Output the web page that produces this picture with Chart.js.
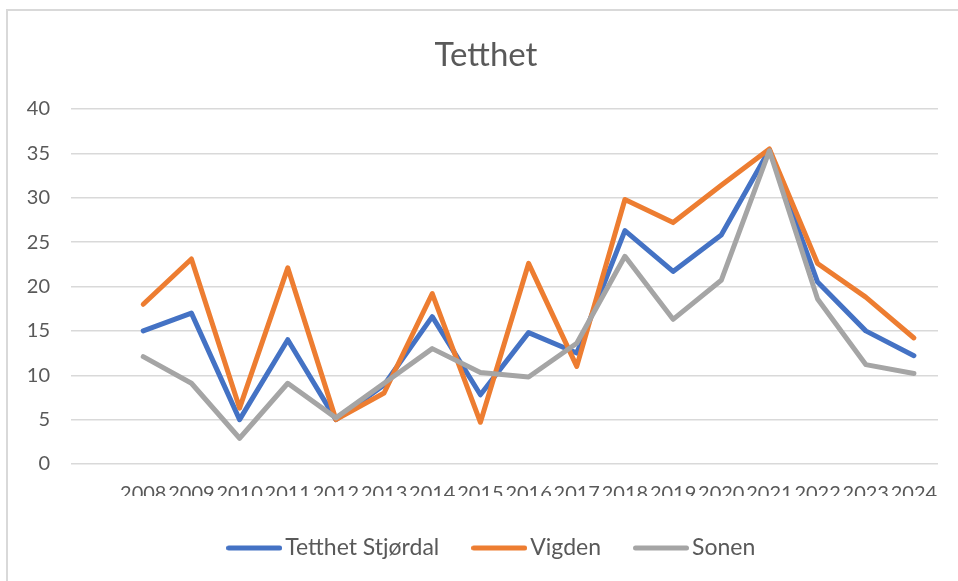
<!DOCTYPE html>
<html>
<head>
<meta charset="utf-8">
<script src="https://cdn.jsdelivr.net/npm/chart.js@4/dist/chart.umd.min.js"></script>
<style>
  html, body { margin: 0; padding: 0; background: #ffffff; overflow: hidden; }
  #frame { position: absolute; left: 6px; top: 9px; width: 1000px; height: 1000px;
           border-left: 2px solid #D9D9D9; border-top: 2px solid #D9D9D9; }
  #wrap { position: absolute; left: 0; top: 0; width: 958px; height: 581px; }
</style>
</head>
<body>
<div id="frame"></div>
<div id="wrap"><canvas id="c" width="958" height="581"></canvas></div>
<script>
const years = ['2008','2009','2010','2011','2012','2013','2014','2015','2016','2017','2018','2019','2020','2021','2022','2023','2024'];
const stjordal = [15.0, 17.0, 5.0, 14.0, 5.0, 8.9, 16.6, 7.8, 14.8, 12.5, 26.3, 21.7, 25.8, 35.4, 20.5, 15.0, 12.2];
const vigden   = [18.0, 23.1, 6.3, 22.1, 5.0, 8.0, 19.2, 4.7, 22.6, 11.0, 29.8, 27.2, 31.4, 35.5, 22.6, 18.8, 14.2];
const sonen    = [12.1, 9.1, 2.9, 9.1, 5.2, 9.1, 13.0, 10.3, 9.8, 13.6, 23.4, 16.3, 20.7, 35.3, 18.6, 11.2, 10.2];
const seriesNames = ['Tetthet Stjørdal', 'Vigden', 'Sonen'];
const seriesColors = ['#4472C4', '#ED7D31', '#A5A5A5'];
const yTicks = [0, 5, 10, 15, 20, 25, 30, 35, 40];

// Excel chart has an empty leading category before 2008
const labels = [''].concat(years);
const pad = arr => [null].concat(arr);

const TXT = '#595959';
const FONT = 'Lato, "Open Sans", sans-serif';

// legend marker: a short rounded line segment
function lineMarker(color) {
  const c = document.createElement('canvas');
  c.width = 56; c.height = 8;
  const g = c.getContext('2d');
  g.strokeStyle = color; g.lineWidth = 5; g.lineCap = 'round';
  g.beginPath(); g.moveTo(2.5, 4); g.lineTo(53.5, 4); g.stroke();
  return c;
}
const markers = seriesColors.map(lineMarker);

function ds(i, data, order) {
  return { label: seriesNames[i], data: pad(data), borderColor: seriesColors[i], backgroundColor: seriesColors[i],
    borderWidth: 5, pointRadius: 0, pointHoverRadius: 0, tension: 0,
    borderCapStyle: 'round', borderJoinStyle: 'round', fill: false, order };
}

const shiftPlugin = {
  id: 'shiftBoxes',
  afterLayout(chart) {
    const t = chart.titleBlock;
    if (t) { t.left += 34; }
    const lg = chart.legend;
    if (lg) { const d = 495 - (lg.left + lg.right) / 2; lg.left += d; lg.right += d; }
  }
};

new Chart(document.getElementById('c'), {
  type: 'line',
  data: {
    labels,
    datasets: [ ds(0, stjordal, 3), ds(1, vigden, 2), ds(2, sonen, 1) ]
  },
  plugins: [shiftPlugin],
  options: {
    responsive: false,
    animation: false,
    events: [],
    layout: { padding: { left: 0, right: 20, top: 0, bottom: 11.5 } },
    plugins: {
      title: { display: true, text: 'Tetthet', color: TXT,
        font: { family: FONT, size: 33, weight: 'normal', lineHeight: 1.2 },
        padding: { top: 36, bottom: 33.4 } },
      legend: { position: 'bottom',
        labels: { color: TXT, font: { family: FONT, size: 23 }, usePointStyle: true,
          pointStyleWidth: 39, boxHeight: 5, padding: 40.5,
          sort: (a, b) => a.datasetIndex - b.datasetIndex,
          generateLabels: (chart) => {
            const items = Chart.defaults.plugins.legend.labels.generateLabels(chart);
            items.forEach(it => { it.pointStyle = markers[it.datasetIndex]; });
            return items;
          } } },
      tooltip: { enabled: false }
    },
    scales: {
      x: { offset: true,
        grid: { display: false, drawTicks: false }, border: { display: false },
        ticks: { color: TXT, font: { family: FONT, size: 20 }, autoSkip: false,
          maxRotation: 0, minRotation: 0, padding: 18 },
        afterFit: s => { s.height = 32; } },
      y: { min: 0, max: 40,
        grid: { color: '#D9D9D9', lineWidth: 1.5, drawTicks: false }, border: { display: false },
        ticks: { color: TXT, font: { family: FONT, size: 20 }, stepSize: 5, padding: 21 },
        afterBuildTicks: s => { s.ticks = yTicks.map(v => ({ value: v })); },
        afterFit: s => { s.width = 71; } }
    }
  }
});
</script>
</body>
</html>
